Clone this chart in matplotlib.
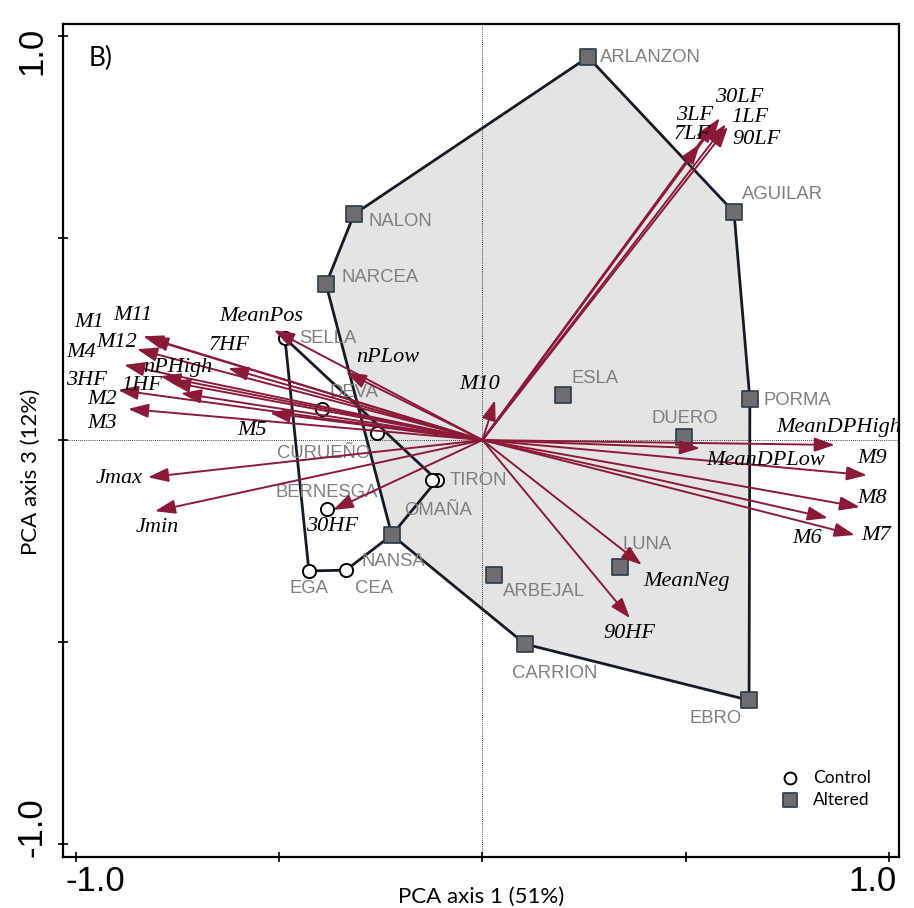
import numpy as np
import matplotlib.pyplot as plt
from matplotlib.transforms import ScaledTranslation

# site scores (PCA axis 1, PCA axis 3)
control_sites = ["SELLA", "DEVA", "CURUEÑO", "TIRON", "", "BERNESGA", "EGA", "CEA", "NANSA"]
control_x = [-0.486, -0.395, -0.260, -0.112, -0.124, -0.383, -0.427, -0.336, -0.223]
control_y = [0.252, 0.077, 0.017, -0.099, -0.099, -0.171, -0.324, -0.322, -0.235]

altered_sites = ["ARLANZON", "AGUILAR", "NALON", "NARCEA", "ESLA", "PORMA",
                 "DUERO", "LUNA", "ARBEJAL", "CARRION", "EBRO", "OMAÑA"]
altered_x = [0.260, 0.619, -0.316, -0.385, 0.198, 0.658, 0.496, 0.338, 0.028, 0.105, 0.656, -0.223]
altered_y = [0.948, 0.564, 0.559, 0.386, 0.111, 0.101, 0.007, -0.314, -0.334, -0.505, -0.644, -0.235]

# variable loadings
variables = ["M1", "M11", "M12", "M4", "3HF", "nPHigh", "1HF", "M2", "M3", "7HF", "M5",
             "Jmax", "Jmin", "MeanPos", "nPLow", "30HF", "M10",
             "7LF", "3LF", "30LF", "1LF", "90LF",
             "MeanDPHigh", "MeanDPLow", "M9", "M8", "M6", "M7", "MeanNeg", "90HF"]
load_x = [-0.835, -0.823, -0.850, -0.882, -0.793, -0.769, -0.742, -0.897, -0.872, -0.626, -0.523,
          -0.823, -0.806, -0.513, -0.336, -0.368, 0.031,
          0.535, 0.572, 0.584, 0.599, 0.604,
          0.867, 0.535, 0.946, 0.929, 0.850, 0.916, 0.392, 0.363]
load_y = [0.257, 0.252, 0.225, 0.186, 0.158, 0.144, 0.116, 0.124, 0.077, 0.178, 0.067,
          -0.092, -0.176, 0.272, 0.168, -0.173, 0.099,
          0.733, 0.787, 0.797, 0.782, 0.775,
          -0.012, -0.020, -0.087, -0.166, -0.193, -0.235, -0.309, -0.441]

# label placement (pixel offsets from the point / arrow tip)
site_offsets = {
    "SELLA": (14, 0, "left"), "DEVA": (8, 16, "left"), "CURUEÑO": (-7, -20, "right"),
    "TIRON": (13, 0, "left"), "BERNESGA": (0, 17, "center"), "EGA": (0, -18, "center"),
    "CEA": (9, -18, "left"), "NANSA": (-30, -26, "left"),
    "ARLANZON": (12, 0, "left"), "AGUILAR": (8, 18, "left"), "NALON": (14, -7, "left"),
    "NARCEA": (15, 7, "left"), "ESLA": (9, 17, "left"), "PORMA": (14, -1, "left"),
    "DUERO": (1, 19, "center"), "LUNA": (3, 22, "left"), "ARBEJAL": (9, -17, "left"),
    "CARRION": (-13, -29, "left"), "EBRO": (-7, -18, "right"), "OMAÑA": (12, 25, "left"),
}
var_offsets = {
    "M1": (-54, 14), "M11": (-15, 23), "M12": (-20, 7), "M4": (-43, 12), "3HF": (-74, -4),
    "nPHigh": (8, 14), "1HF": (-39, 8), "M2": (-16, -10), "M3": (-26, -15), "7HF": (1, 23),
    "M5": (-18, -17), "Jmax": (-29, -1), "Jmin": (2, -16), "MeanPos": (-13, 14),
    "nPLow": (42, 15), "30HF": (-1, -17), "M10": (-15, 16), "7LF": (-8, 9), "3LF": (-20, 7),
    "30LF": (19, 21), "1LF": (24, 7), "90LF": (29, -13), "MeanDPHigh": (4, 17),
    "MeanDPLow": (66, -12), "M9": (5, 17), "M8": (12, 9), "M6": (-21, -20), "M7": (21, 0),
    "MeanNeg": (45, -17), "90HF": (-1, -15),
}

arrow_color = "#8b1a38"
label_grey = "#7f7f7f"
hull_color = "#151b26"


def convex_hull(xs, ys):
    pts = sorted(set(zip(xs, ys)))

    def cross(o, a, b):
        return (a[0] - o[0]) * (b[1] - o[1]) - (a[1] - o[1]) * (b[0] - o[0])

    lower, upper = [], []
    for p in pts:
        while len(lower) >= 2 and cross(lower[-2], lower[-1], p) <= 0:
            lower.pop()
        lower.append(p)
    for p in reversed(pts):
        while len(upper) >= 2 and cross(upper[-2], upper[-1], p) <= 0:
            upper.pop()
        upper.append(p)
    hull = np.array(lower[:-1] + upper[:-1])
    return np.vstack([hull, hull[:1]])


fig = plt.figure(figsize=(9.14, 9.08), dpi=100)
ax = fig.add_axes([0.069, 0.0562, 0.9146, 0.9174])
ax.set_xlim(-1.032, 1.025)
ax.set_ylim(-1.032, 1.030)

ax.axvline(0, color="black", linestyle=(0, (1, 1.5)), linewidth=0.6, zorder=1)
ax.axhline(0, color="black", linestyle=(0, (1, 1.5)), linewidth=0.6, zorder=1)

h_alt = convex_hull(altered_x, altered_y)
ax.fill(h_alt[:, 0], h_alt[:, 1], color="#e4e4e4", zorder=0)
ax.plot(h_alt[:, 0], h_alt[:, 1], color=hull_color, linewidth=2.0, zorder=2)
h_ctl = convex_hull(control_x, control_y)
ax.plot(h_ctl[:, 0], h_ctl[:, 1], color=hull_color, linewidth=2.0, zorder=2)

ax.scatter(control_x, control_y, s=90, marker="o", facecolor="white", edgecolor="black",
           linewidth=1.4, zorder=3, label="Control")
ax.scatter(altered_x, altered_y, s=120, marker="s", facecolor="#6e6e72", edgecolor="#2b3a48",
           linewidth=1.2, zorder=4, label="Altered")

for name, x, y in list(zip(control_sites, control_x, control_y)) + list(zip(altered_sites, altered_x, altered_y)):
    if not name:
        continue
    dx, dy, ha = site_offsets[name]
    ax.annotate(name, (x, y), xytext=(dx, dy), textcoords="offset pixels", ha=ha, va="center",
                fontsize=13.3, color=label_grey, family="Liberation Sans", zorder=5)

for name, x, y in zip(variables, load_x, load_y):
    ax.annotate("", xy=(x, y), xytext=(0, 0),
                arrowprops=dict(arrowstyle="-|>,head_length=0.95,head_width=0.33",
                                mutation_scale=13, color=arrow_color, lw=1.4,
                                shrinkA=0, shrinkB=0), zorder=6)
    dx, dy = var_offsets[name]
    ax.annotate(name, (x, y), xytext=(dx, dy), textcoords="offset pixels", ha="center",
                va="center", fontsize=16, family="Liberation Serif", style="italic",
                color="black", zorder=7)

ax.text(0.031, 0.958, "B)", transform=ax.transAxes, fontsize=19, family="Lato", va="center")

ax.set_xticks([-1.0, -0.5, 0.0, 0.5, 1.0])
ax.set_xticklabels(["-1.0", "", "", "", "1.0"], fontsize=25, family="Liberation Sans")
ax.set_yticks([-1.0, -0.5, 0.0, 0.5, 1.0])
ax.set_yticklabels(["-1.0", "", "", "", "1.0"], fontsize=25, family="Liberation Sans",
                   rotation=90, va="center")
ax.tick_params(direction="inout", length=7, width=1.2, pad=2)
ax.tick_params(axis="y", pad=7)

xl = ax.get_xticklabels()
xl[0].set_transform(xl[0].get_transform() + ScaledTranslation(0.19, 0, fig.dpi_scale_trans))
xl[-1].set_transform(xl[-1].get_transform() + ScaledTranslation(-0.16, 0, fig.dpi_scale_trans))
yl = ax.get_yticklabels()
yl[0].set_transform(yl[0].get_transform() + ScaledTranslation(0, 0.17, fig.dpi_scale_trans))
yl[-1].set_transform(yl[-1].get_transform() + ScaledTranslation(0, -0.15, fig.dpi_scale_trans))

ax.set_xlabel("PCA axis 1 (51%)", fontsize=16, family="Lato")
ax.xaxis.set_label_coords(0.5, -0.036)
ax.set_ylabel("PCA axis 3 (12%)", fontsize=16, family="Lato")
ax.yaxis.set_label_coords(-0.027, 0.462)

for sp in ax.spines.values():
    sp.set_linewidth(1.6)

ax.legend(loc="lower right", bbox_to_anchor=(0.985, 0.04), frameon=False,
          prop={"family": "Lato", "size": 12.5}, handletextpad=0.3, labelspacing=0.35,
          markerscale=0.9)

fig.savefig("out.png", dpi=100)
